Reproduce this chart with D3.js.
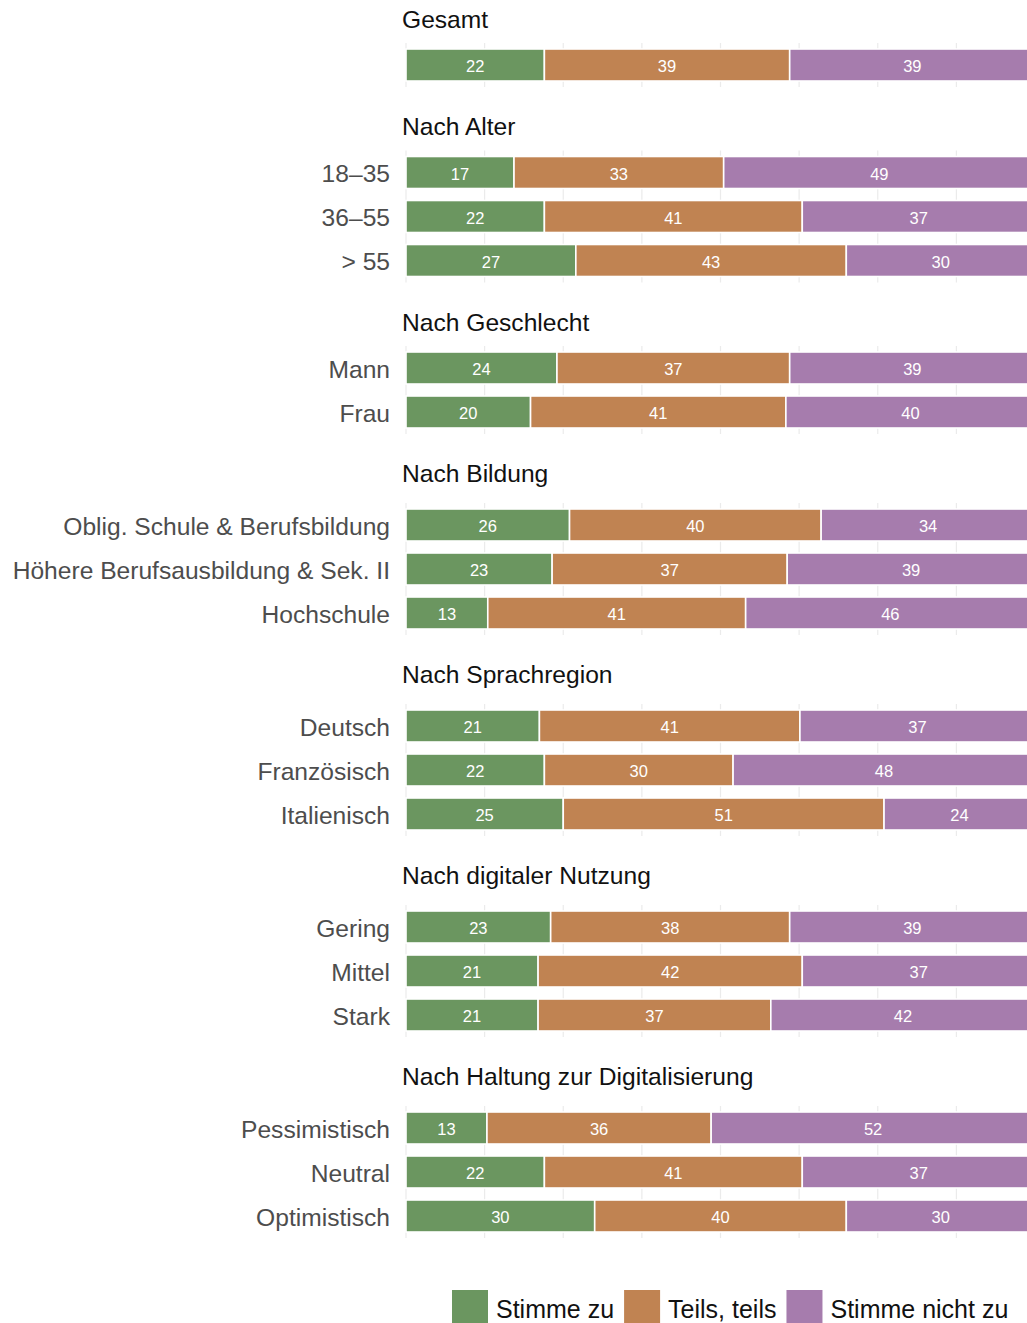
<!DOCTYPE html>
<html>
<head>
<meta charset="utf-8">
<script src="https://cdn.jsdelivr.net/npm/d3@7.9.0/dist/d3.min.js"></script>
<style>
  body { margin: 0; background: #fff; }
  svg { display: block; font-family: "Liberation Sans", Arial, sans-serif; }
</style>
</head>
<body>
<svg id="chart" width="1027" height="1323"></svg>
<script>
// ================================
// Data
// ================================
const facets = [
  "Gesamt",
  "Nach Alter",
  "Nach Geschlecht",
  "Nach Bildung",
  "Nach Sprachregion",
  "Nach digitaler Nutzung",
  "Nach Haltung zur Digitalisierung"
];
const groups = [
  [""],
  ["18–35", "36–55", "> 55"],
  ["Mann", "Frau"],
  ["Oblig. Schule & Berufsbildung", "Höhere Berufsausbildung & Sek. II", "Hochschule"],
  ["Deutsch", "Französisch", "Italienisch"],
  ["Gering", "Mittel", "Stark"],
  ["Pessimistisch", "Neutral", "Optimistisch"]
];
const answers = ["Stimme zu", "Teils, teils", "Stimme nicht zu"];
const stimmeZu = [[22], [17, 22, 27], [24, 20], [26, 23, 13], [21, 22, 25], [23, 21, 21], [13, 22, 30]];
const teilsTeils = [[39], [33, 41, 43], [37, 41], [40, 37, 41], [41, 30, 51], [38, 42, 37], [36, 41, 40]];
const stimmeNicht = [[39], [49, 37, 30], [39, 40], [34, 39, 46], [37, 48, 24], [39, 37, 42], [52, 37, 30]];
const colors = ["#6b9660", "#c08352", "#a67cad"];

// ================================
// Setup
// ================================
const svg = d3.select("#chart");
const x = d3.scaleLinear().domain([0, 100]).range([406, 1035]);
const color = d3.scaleOrdinal().domain(answers).range(colors);
const rowStep = 44;
const barH = 32;

let cursor = 19; // title center of first facet

facets.forEach((facet, fi) => {
  const titleY = cursor;
  const firstBar = titleY + (fi < 3 ? 46 : 51.5);
  const labels = groups[fi];
  const y = d3.scalePoint()
    .domain(labels)
    .range([firstBar, firstBar + (labels.length - 1) * rowStep]);

  const g = svg.append("g");

  // facet title
  g.append("text")
    .attr("x", 402)
    .attr("y", titleY)
    .attr("dominant-baseline", "central")
    .attr("font-size", 24.6)
    .attr("fill", "#111")
    .text(facet);

  // grid (only visible between bars)
  const top = y(labels[0]) - barH / 2 - 6;
  const bottom = y(labels[labels.length - 1]) + barH / 2 + 6;
  g.selectAll("line.grid")
    .data(d3.range(0, 100, 12.5))
    .join("line")
    .attr("x1", (d) => x(d))
    .attr("x2", (d) => x(d))
    .attr("y1", top)
    .attr("y2", bottom)
    .attr("stroke", "#ebebeb")
    .attr("stroke-width", 1.2);

  // rows
  labels.forEach((lab, ri) => {
    const vals = [stimmeZu[fi][ri], teilsTeils[fi][ri], stimmeNicht[fi][ri]];
    const total = d3.sum(vals);
    let acc = 0;
    const segs = vals.map((v, k) => {
      const s = { key: answers[k], value: v, x0: (acc / total) * 100, x1: ((acc + v) / total) * 100 };
      acc += v;
      return s;
    });

    const cy = y(lab);
    const row = g.append("g");

    row.selectAll("rect")
      .data(segs)
      .join("rect")
      .attr("x", (d) => x(d.x0))
      .attr("y", cy - barH / 2)
      .attr("width", (d) => x(d.x1) - x(d.x0))
      .attr("height", barH)
      .attr("fill", (d) => color(d.key))
      .attr("stroke", "#fff")
      .attr("stroke-width", 1.6);

    row.selectAll("text.val")
      .data(segs)
      .join("text")
      .attr("class", "val")
      .attr("x", (d) => x((d.x0 + d.x1) / 2))
      .attr("y", cy + 1)
      .attr("dominant-baseline", "central")
      .attr("text-anchor", "middle")
      .attr("font-size", 16.5)
      .attr("fill", "#fff")
      .text((d) => d.value);

    if (lab) {
      g.append("text")
        .attr("x", 390)
        .attr("y", cy + 1)
        .attr("dominant-baseline", "central")
        .attr("text-anchor", "end")
        .attr("font-size", 24.6)
        .attr("fill", "#4d4d4d")
        .text(lab);
    }
  });

  cursor = y(labels[labels.length - 1]) + 61.5;
});

// ================================
// Legend
// ================================
const legend = svg.append("g");
let lx = 452;
answers.forEach((a) => {
  legend.append("rect")
    .attr("x", lx)
    .attr("y", 1290)
    .attr("width", 36)
    .attr("height", 36)
    .attr("fill", color(a));
  const t = legend.append("text")
    .attr("x", lx + 44)
    .attr("y", 1309)
    .attr("dominant-baseline", "central")
    .attr("font-size", 25)
    .attr("fill", "#111")
    .text(a);
  lx += 44 + t.node().getComputedTextLength() + 10;
});
</script>
</body>
</html>
